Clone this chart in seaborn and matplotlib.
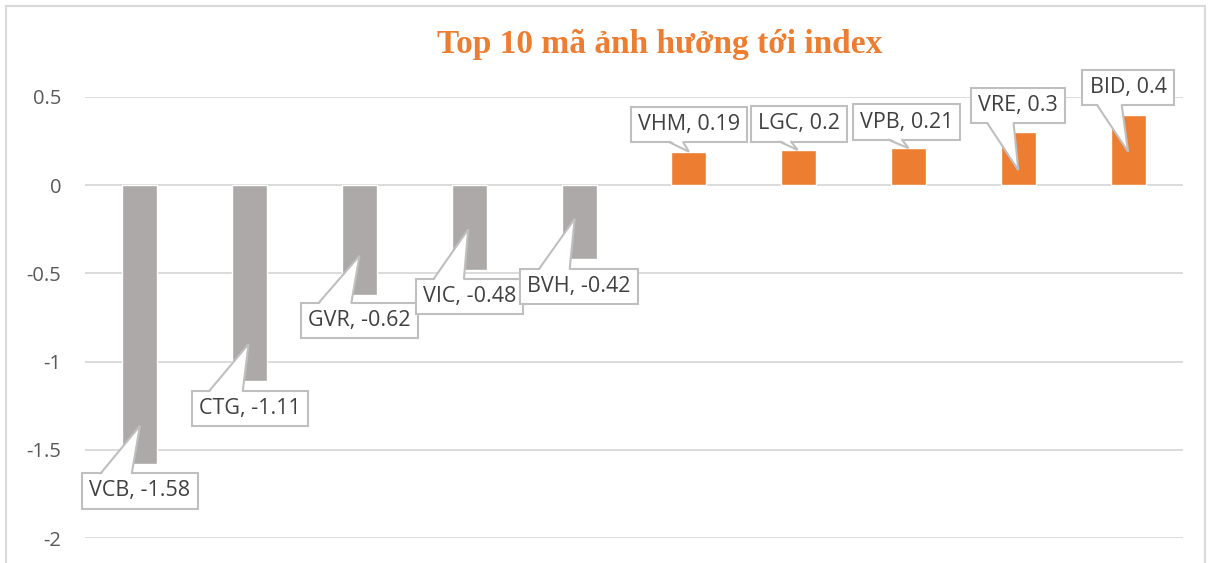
import matplotlib
matplotlib.use("Agg")
import matplotlib.pyplot as plt
import seaborn as sns
from matplotlib.lines import Line2D
from matplotlib.patches import Polygon, Rectangle
from matplotlib.transforms import IdentityTransform

# data
tickers = ["VCB", "CTG", "GVR", "VIC", "BVH", "VHM", "LGC", "VPB", "VRE", "BID"]
impact = [-1.58, -1.11, -0.62, -0.48, -0.42, 0.19, 0.2, 0.21, 0.3, 0.4]
value_text = ["-1.58", "-1.11", "-0.62", "-0.48", "-0.42", "0.19", "0.2", "0.21", "0.3", "0.4"]
yticks = [-2, -1.5, -1, -0.5, 0, 0.5]
ytick_labels = ["-2", "-1.5", "-1", "-0.5", "0", "0.5"]
title = "Top 10 mã ảnh hưởng tới index"

# callout layout: text centre (dx, y), wedge tip (dx, y), wedge root along box edge
text_pos = [(0.0, -1.733), (0.0, -1.267), (0.0, -0.767), (0.0, -0.63), (0.0, -0.574),
            (0.0, 0.344), (0.0, 0.347), (-0.02, 0.358), (0.0, 0.452), (0.0, 0.554)]
tip_pos = [(0.0, -1.364), (-0.01, -0.90), (0.0, -0.40), (-0.01, -0.25), (-0.04, -0.19),
           (0.0, 0.19), (-0.01, 0.2), (0.0, 0.21), (0.0, 0.085), (0.0, 0.19)]
root_pos = [(0.16, 0.43), (0.15, 0.44), (0.15, 0.43), (0.17, 0.45), (0.16, 0.42),
            (0.33, 0.45), (0.30, 0.42), (0.33, 0.46), (0.17, 0.45), (0.16, 0.43)]

GREY = "#ADA9A9"
ORANGE = "#ED7D31"
EDGE = "#BFBFBF"
colors = [GREY if v < 0 else ORANGE for v in impact]

sns.set_style("white")
plt.rcParams["font.family"] = ["Lato", "DejaVu Sans"]

fig = plt.figure(figsize=(12.09, 5.63), dpi=100)
ax = fig.add_axes([85 / 1209, 25 / 563, 1098 / 1209, 441 / 563])

sns.barplot(x=tickers, y=impact, hue=tickers, palette=colors, legend=False,
            width=0.32, saturation=1, ax=ax, zorder=2)

ax.set_ylim(-2, 0.5)
ax.set_xlim(-0.5, len(tickers) - 0.5)
ax.set_yticks(yticks)
ax.set_yticklabels(ytick_labels)
ax.set_xticks([])
ax.set_xlabel("")
ax.set_ylabel("")
ax.tick_params(axis="y", length=0, pad=17, labelsize=14.5, labelcolor="#595959")
for lab in ax.get_yticklabels():
    lab.set_fontfamily(["Open Sans", "DejaVu Sans"])
ax.grid(axis="y", color="#D9D9D9", linewidth=1.3, zorder=0)
ax.set_axisbelow(True)
sns.despine(ax=ax, left=True, bottom=True)

# callout boxes
labels = []
for i, (name, txt) in enumerate(zip(tickers, value_text)):
    tx, ty = text_pos[i]
    t = ax.text(i + tx, ty, f"{name}, {txt}", ha="center", va="center",
                fontsize=15.5, color="#404040",
                fontfamily=["Open Sans", "DejaVu Sans"],
                bbox=dict(boxstyle="square,pad=0.33", fc="white", ec=EDGE, lw=1.5),
                zorder=5, clip_on=False)
    labels.append(t)

fig.text(660 / 1209, 1 - 45 / 563, title, ha="center", va="center",
         fontsize=24, fontweight="bold", color=ORANGE,
         fontfamily=["Liberation Serif", "DejaVu Serif"])

fig.patches.append(Rectangle((6 / 1209, -0.02), 1199 / 1209, 1 - 6 / 563 + 0.02,
                             transform=fig.transFigure, fill=False,
                             ec="#D9D9D9", lw=1.5))

# callout wedges, built in pixel space from the drawn boxes
fig.canvas.draw()
renderer = fig.canvas.get_renderer()
for i, t in enumerate(labels):
    bb = t.get_bbox_patch().get_window_extent(renderer)
    px, py = tip_pos[i]
    tip = ax.transData.transform((i + px, py))
    if tip[1] > bb.y1:
        edge_y, inset = bb.y1, -2
    else:
        edge_y, inset = bb.y0, 2
    r0, r1 = root_pos[i]
    xa = bb.x0 + bb.width * r0
    xb = bb.x0 + bb.width * r1
    fill = Polygon([(xa, edge_y + inset), (tip[0], tip[1]), (xb, edge_y + inset)],
                   closed=True, fc="white", ec="none", zorder=6,
                   transform=IdentityTransform(), clip_on=False)
    ax.add_artist(fill)
    outline = Line2D([xa, tip[0], xb], [edge_y, tip[1], edge_y], color=EDGE,
                     lw=1.5, zorder=7, transform=IdentityTransform(),
                     clip_on=False, solid_joinstyle="miter")
    ax.add_artist(outline)

fig.savefig("out.png", dpi=100)
